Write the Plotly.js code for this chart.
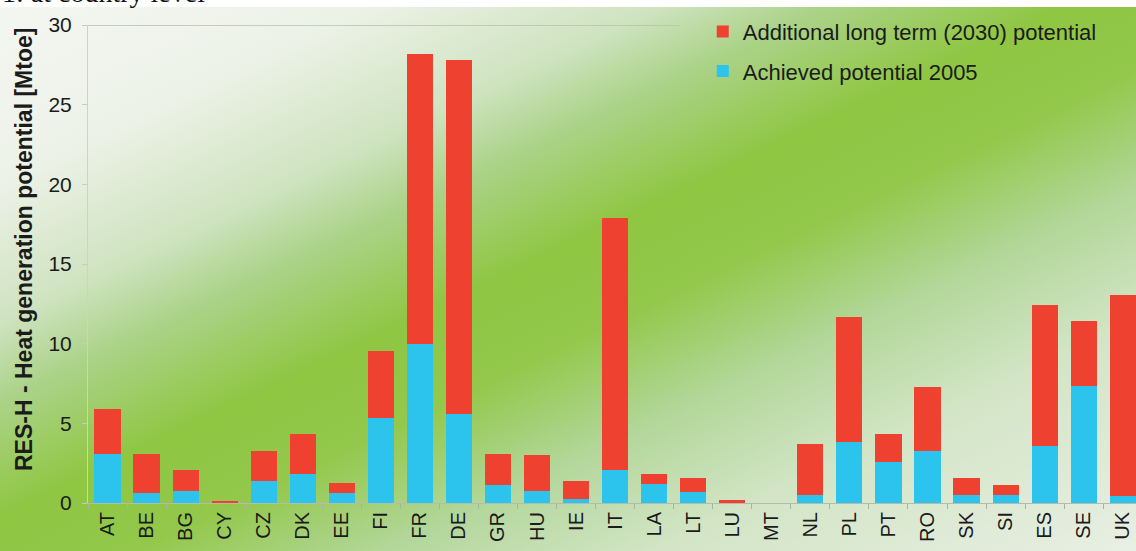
<!DOCTYPE html>
<html>
<head>
<meta charset="utf-8">
<script src="https://cdn.plot.ly/plotly-3.0.1.min.js"></script>
<style>
  html, body { margin: 0; padding: 0; background: #ffffff; }
  #wrap { position: relative; width: 1136px; height: 551px; overflow: hidden; }
  #bg {
    position: absolute; left: 0; top: 7px; width: 1136px; height: 544px;
    background: linear-gradient(to bottom right,
      #f4f6f1 0%, #edf2e8 16%, #cfe3c0 29%, #acd38a 36%, #8fc642 47%,
      #93c84c 56%, #b3d79b 67%, #d3e5c6 79%, #e9efe4 100%);
  }
  #chart { position: absolute; left: 0; top: 0; width: 1136px; height: 551px; }
</style>
</head>
<body>
<div id="wrap">
  <div id="bg"></div>
  <div id="chart"></div>
</div>
<script>
// Renewable heat (RES-H) generation potential by country, Mtoe
const countries = ["AT","BE","BG","CY","CZ","DK","EE","FI","FR","DE","GR","HU","IE","IT",
                   "LA","LT","LU","MT","NL","PL","PT","RO","SK","SI","ES","SE","UK"];
const achieved2005 = [3.1, 0.6, 0.75, 0, 1.4, 1.85, 0.6, 5.35, 9.95, 5.6, 1.15, 0.75, 0.25, 2.1,
                      1.2, 0.7, 0, 0, 0.5, 3.85, 2.6, 3.25, 0.5, 0.5, 3.55, 7.35, 0.45];
const additional2030 = [2.8, 2.45, 1.35, 0.15, 1.85, 2.45, 0.65, 4.2, 18.2, 22.2, 1.95, 2.25, 1.15, 15.8,
                        0.6, 0.85, 0.2, 0.03, 3.2, 7.85, 1.7, 4.05, 1.05, 0.65, 8.85, 4.1, 12.6];
const yTicks = [0, 5, 10, 15, 20, 25, 30];

const textFont = "Liberation Sans, Arial, sans-serif";
const ink = "#1b1b1b";

const traces = [
  {
    type: "bar", name: "Achieved potential 2005",
    x: countries, y: achieved2005,
    marker: { color: "#2cc3ec" }, legendgroup: "a", legendrank: 2,
    hoverinfo: "x+y+name"
  },
  {
    type: "bar", name: "Additional long term (2030) potential",
    x: countries, y: additional2030,
    marker: { color: "#ef4130" }, legendgroup: "b", legendrank: 1,
    hoverinfo: "x+y+name"
  }
];

const layout = {
  width: 1136, height: 551,
  margin: { l: 88, r: 0, t: 25, b: 48 },
  paper_bgcolor: "rgba(0,0,0,0)",
  plot_bgcolor: "rgba(0,0,0,0)",
  barmode: "stack",
  bargap: 0.33,
  font: { family: textFont, color: ink },
  xaxis: {
    type: "category",
    range: [-0.5, 26.34],
    tickangle: -90,
    tickfont: { size: 20, color: ink },
    ticks: "outside", tickson: "boundaries", ticklen: 5, tickcolor: "#a9b3a2",
    showline: true, linecolor: "#b4bcad", linewidth: 1,
    showgrid: false, zeroline: false, fixedrange: true
  },
  yaxis: {
    range: [0, 30],
    tickvals: yTicks,
    ticktext: yTicks.map(String),
    tickfont: { size: 21, color: ink },
    ticks: "outside", ticklen: 5, tickcolor: "#c6cdbf",
    ticklabelstandoff: 6,
    showline: true, linecolor: "#cdd4c6", linewidth: 1,
    showgrid: false, zeroline: false, fixedrange: true
  },
  showlegend: true,
  legend: {
    x: 0.5866, y: 1.03, xanchor: "left", yanchor: "top",
    traceorder: "grouped", tracegroupgap: 8,
    bgcolor: "rgba(0,0,0,0)", borderwidth: 0,
    font: { size: 22, color: ink, family: textFont }
  },
  shapes: [
    {
      type: "line", xref: "paper", yref: "y",
      x0: 0, x1: 0.5647, y0: 30, y1: 30,
      line: { color: "#b3c3a8", width: 1.5 }
    }
  ],
  annotations: [
    {
      text: "RES-H - Heat generation potential [Mtoe]",
      xref: "paper", yref: "paper", x: 0, y: 0.5, xshift: -64, yshift: 14,
      xanchor: "center", yanchor: "middle", textangle: -90, showarrow: false,
      font: { size: 23, color: ink, family: textFont, weight: "bold" }
    },
    {
      text: "1: at country level",
      xref: "paper", yref: "paper", x: 0, y: 1, xshift: -88, yshift: 15,
      xanchor: "left", yanchor: "bottom", showarrow: false,
      font: { size: 28, color: "#111111", family: "Liberation Serif, Times New Roman, serif" }
    }
  ]
};

Plotly.newPlot("chart", traces, layout, { displayModeBar: false, staticPlot: true });
</script>
</body>
</html>
